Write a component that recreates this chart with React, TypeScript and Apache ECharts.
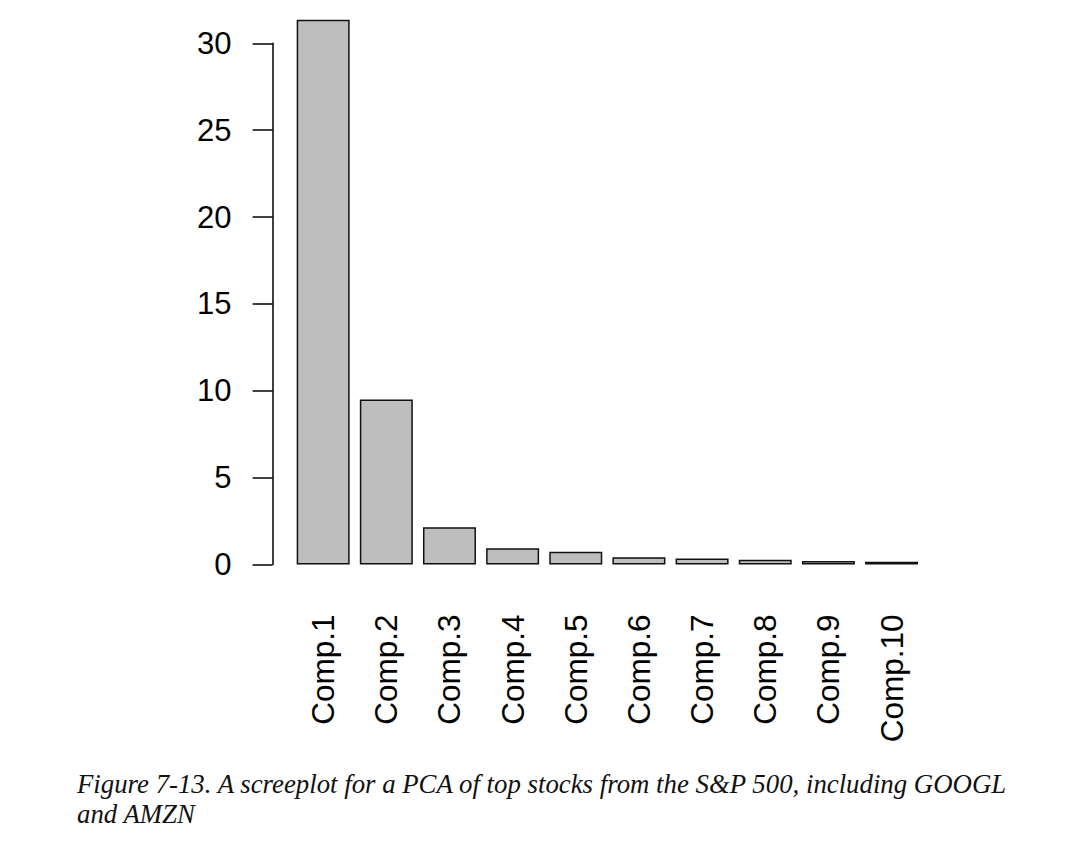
import React, { useEffect, useRef } from "react";
import * as echarts from "echarts";

const categories = ["Comp.1", "Comp.2", "Comp.3", "Comp.4", "Comp.5", "Comp.6", "Comp.7", "Comp.8", "Comp.9", "Comp.10"];
const variances = [31.35, 9.5, 2.15, 0.93, 0.74, 0.42, 0.35, 0.27, 0.2, 0.16];
const yTicks = [0, 5, 10, 15, 20, 25, 30];
const captionLines = [
  "Figure 7-13. A screeplot for a PCA of top stocks from the S&P 500, including GOOGL",
  "and AMZN",
];

export default function App() {
  const ref = useRef<HTMLDivElement>(null);
  useEffect(() => {
    document.body.style.margin = "0";
    const chart = echarts.init(ref.current!, undefined, { renderer: "svg" });
    const font = "'Liberation Sans', Arial, Helvetica, sans-serif";
    chart.setOption({
      animation: false,
      backgroundColor: "#ffffff",
      grid: { left: 291.6, right: 168.9, top: 43.3, bottom: 299.5, containLabel: false },
      xAxis: {
        type: "category",
        data: categories,
        boundaryGap: true,
        axisLine: { show: false },
        axisTick: { show: false },
        axisLabel: {
          rotate: 90,
          margin: 50,
          fontSize: 31.5,
          fontFamily: font,
          color: "#000",
          interval: 0,
        },
      },
      yAxis: {
        type: "value",
        min: yTicks[0],
        max: yTicks[yTicks.length - 1],
        interval: 5,
        offset: 19,
        splitLine: { show: false },
        axisLine: { show: true, lineStyle: { color: "#000", width: 1.5 } },
        axisTick: { show: true, length: 20, lineStyle: { color: "#000", width: 1.5 } },
        axisLabel: {
          margin: 41,
          fontSize: 31,
          fontFamily: font,
          color: "#000",
        },
      },
      series: [
        {
          type: "bar",
          data: variances,
          barWidth: 53,
          clip: false,
          itemStyle: { color: "#bebebe", borderColor: "#111", borderWidth: 1.5 },
        },
      ],
      graphic: captionLines.map((t, i) => ({
        type: "text",
        left: 77,
        top: 770 + i * 30,
        style: {
          text: t,
          fontSize: 26.8,
          fontStyle: "italic",
          fontFamily: "'Liberation Serif', 'Times New Roman', serif",
          fill: "#111",
        },
      })),
    });
    return () => chart.dispose();
  }, []);
  return <div ref={ref} style={{ width: 1092, height: 864 }} />;
}
